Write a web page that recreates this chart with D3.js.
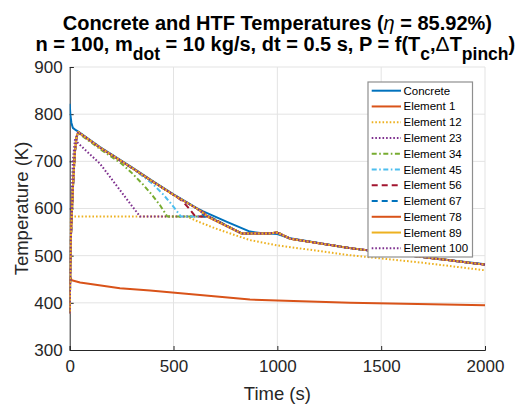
<!DOCTYPE html>
<html>
<head>
<meta charset="utf-8">
<script src="https://cdn.jsdelivr.net/npm/d3@7"></script>
<style>
  html, body { margin: 0; padding: 0; background: #fff; }
  svg { display: block; font-family: "Liberation Sans", Arial, sans-serif; }
</style>
</head>
<body>
<svg id="chart" width="516" height="405"></svg>
<script>
// Axis ticks
const xTicks = [0, 500, 1000, 1500, 2000];
const yTicks = [300, 400, 500, 600, 700, 800, 900];

// Concrete temperature (K) over time (s)
const concreteTime = [0, 3, 8, 15, 30, 41, 146, 300, 400, 500, 612, 643, 760, 868, 917, 1000, 1061, 1350, 1700, 2000];
const concreteTemp = [822, 800, 782, 771, 766, 763, 730, 687, 658, 630, 601, 594, 571, 551, 548, 546, 537, 516, 497, 482];

// HTF element temperatures (K) over time (s)
const elem1Time = [0, 2, 10, 50, 242, 387, 868, 1000, 1350, 2000];
const elem1Temp = [378, 455, 448, 443, 431, 426, 407, 405, 400, 395];

const elem12Time = [0, 3, 565, 620, 700, 820, 868, 997, 1350, 1700, 2000];
const elem12Temp = [378, 583, 583, 572, 558, 540, 533, 522, 501, 485, 469];

const elem23Time = [0, 5, 15, 25, 80, 146, 194, 242, 290, 339, 670, 828, 960, 997, 1010, 1061, 1350, 1700, 2000];
const elem23Temp = [378, 560, 700, 745, 722, 695, 667, 639, 611, 583, 583, 547, 547, 549, 547, 536, 516, 497, 481];

const elem34Time = [0, 5, 15, 25, 33, 41, 150, 250, 300, 355, 400, 435, 470, 670, 828, 960, 997, 1010, 1061, 1350, 1700, 2000];
const elem34Temp = [378, 530, 640, 720, 752, 760, 725, 695, 675, 650, 627, 607, 583, 583, 547, 547, 549, 547, 536, 516, 497, 481];

const elem45Time = [0, 5, 15, 25, 33, 41, 146, 300, 400, 450, 483, 510, 535, 670, 828, 960, 997, 1010, 1061, 1350, 1700, 2000];
const elem45Temp = [378, 530, 640, 720, 752, 762, 729, 686, 652, 630, 613, 598, 583, 583, 547, 547, 549, 547, 536, 516, 497, 481];

const elem56Time = [0, 5, 15, 25, 33, 41, 146, 300, 400, 500, 520, 547, 575, 605, 670, 828, 960, 997, 1010, 1061, 1350, 1700, 2000];
const elem56Temp = [378, 530, 640, 720, 752, 762, 729, 686, 657, 629, 623, 614, 600, 583, 583, 547, 547, 549, 547, 536, 516, 497, 481];

const elem67Time = [0, 5, 15, 25, 33, 41, 146, 300, 400, 500, 612, 625, 650, 670, 828, 960, 997, 1010, 1061, 1350, 1700, 2000];
const elem67Temp = [378, 530, 640, 720, 752, 762, 729, 686, 657, 629, 600, 596, 583, 583, 547, 547, 549, 547, 536, 516, 497, 481];

const elem78Time = [0, 5, 15, 25, 33, 41, 146, 300, 400, 500, 612, 643, 662, 828, 960, 997, 1010, 1061, 1350, 1700, 2000];
const elem78Temp = [378, 530, 640, 720, 752, 762, 729, 686, 657, 629, 600, 592, 583, 547, 547, 549, 547, 536, 516, 497, 481];

const elem89Time = [0, 5, 15, 25, 33, 41, 146, 300, 400, 500, 612, 660, 828, 960, 997, 1010, 1061, 1350, 1700, 2000];
const elem89Temp = [378, 530, 640, 720, 752, 762, 729, 686, 657, 629, 600, 584, 547, 547, 549, 547, 536, 516, 497, 481];

const elem100Time = [0, 5, 15, 25, 33, 41, 146, 300, 400, 500, 612, 660, 828, 960, 997, 1010, 1061, 1350, 1700, 2000];
const elem100Temp = [378, 530, 640, 720, 752, 762, 729, 686, 657, 629, 600, 584, 547, 547, 549, 547, 536, 516, 497, 481];

// Series styling (MATLAB default colour order, cycling)
const series = [
  { name: "Concrete",    t: concreteTime, v: concreteTemp, color: "#0072BD", dash: null },
  { name: "Element 1",   t: elem1Time,   v: elem1Temp,   color: "#D95319", dash: null },
  { name: "Element 12",  t: elem12Time,  v: elem12Temp,  color: "#EDB120", dash: "1.6,2" },
  { name: "Element 23",  t: elem23Time,  v: elem23Temp,  color: "#7E2F8E", dash: "1.6,2" },
  { name: "Element 34",  t: elem34Time,  v: elem34Temp,  color: "#77AC30", dash: "5,2.5,1.6,2.5" },
  { name: "Element 45",  t: elem45Time,  v: elem45Temp,  color: "#4DBEEE", dash: "5,2.5,1.6,2.5" },
  { name: "Element 56",  t: elem56Time,  v: elem56Temp,  color: "#A2142F", dash: "6,4" },
  { name: "Element 67",  t: elem67Time,  v: elem67Temp,  color: "#0072BD", dash: "6,4" },
  { name: "Element 78",  t: elem78Time,  v: elem78Temp,  color: "#D95319", dash: null },
  { name: "Element 89",  t: elem89Time,  v: elem89Temp,  color: "#EDB120", dash: null },
  { name: "Element 100", t: elem100Time, v: elem100Temp, color: "#7E2F8E", dash: "1.6,2" }
];

const svg = d3.select("#chart");
const plot = { left: 69.7, right: 485, top: 67, bottom: 350 };

const x = d3.scaleLinear().domain([0, 2000]).range([plot.left, plot.right]);
const y = d3.scaleLinear().domain([300, 900]).range([plot.bottom, plot.top]);

// Grid
const grid = svg.append("g").attr("stroke", "#e3e3e3").attr("stroke-width", 1);
grid.selectAll("line.gx").data(xTicks.slice(1)).join("line")
  .attr("x1", d => x(d)).attr("x2", d => x(d))
  .attr("y1", plot.top).attr("y2", plot.bottom);
grid.selectAll("line.gy").data(yTicks.slice(1)).join("line")
  .attr("x1", plot.left).attr("x2", plot.right)
  .attr("y1", d => y(d)).attr("y2", d => y(d));

// Axes
const xAxis = d3.axisBottom(x).tickValues(xTicks).tickSize(-4).tickPadding(10).tickFormat(d3.format("d"));
const yAxis = d3.axisLeft(y).tickValues(yTicks).tickSize(-4).tickPadding(7).tickFormat(d3.format("d"));

const gx = svg.append("g").attr("transform", `translate(0,${plot.bottom})`).call(xAxis);
const gy = svg.append("g").attr("transform", `translate(${plot.left},0)`).call(yAxis);
[gx, gy].forEach(g => {
  g.select(".domain").attr("stroke", "#262626").attr("stroke-width", 1);
  g.selectAll(".tick line").attr("stroke", "#262626");
  g.selectAll(".tick text").attr("fill", "#262626")
    .style("font-family", "'Liberation Sans', Arial, sans-serif").style("font-size", "17px");
});

// Lines
svg.append("clipPath").attr("id", "clip").append("rect")
  .attr("x", plot.left).attr("y", plot.top - 2)
  .attr("width", plot.right - plot.left + 2).attr("height", plot.bottom - plot.top + 2);

const line = d3.line().x(d => x(d[0])).y(d => y(d[1]));
const lines = svg.append("g").attr("clip-path", "url(#clip)");
series.forEach(s => {
  const pts = s.t.map((t, i) => [t, s.v[i]]);
  lines.append("path")
    .attr("d", line(pts))
    .attr("fill", "none")
    .attr("stroke", s.color)
    .attr("stroke-width", 2)
    .attr("stroke-linejoin", "round")
    .attr("stroke-dasharray", s.dash);
});

// Axis labels
svg.append("text")
  .attr("x", (plot.left + plot.right) / 2).attr("y", 400)
  .attr("text-anchor", "middle").attr("fill", "#262626")
  .style("font-size", "18.5px").text("Time (s)");
svg.append("text")
  .attr("transform", `translate(28,${(plot.top + plot.bottom) / 2}) rotate(-90)`)
  .attr("text-anchor", "middle").attr("fill", "#262626")
  .style("font-size", "18.5px").text("Temperature (K)");

// Title
const cx = (plot.left + plot.right) / 2;
const t1 = svg.append("text").attr("x", cx).attr("y", 30)
  .attr("text-anchor", "middle").attr("fill", "#000")
  .style("font-size", "20px").style("font-weight", "bold");
t1.append("tspan").text("Concrete and HTF Temperatures (");
t1.append("tspan").style("font-style", "italic").style("font-weight", "normal").text("η");
t1.append("tspan").text(" = 85.92%)");

const subShift = 9;
const t2 = svg.append("text").attr("x", cx - 2).attr("y", 51)
  .attr("text-anchor", "middle").attr("fill", "#000")
  .style("font-size", "20px").style("font-weight", "bold");
const sub = (txt) => {
  t2.append("tspan").attr("dy", subShift).style("font-size", "17.5px").text(txt);
};
const norm = (txt, back) => {
  t2.append("tspan").attr("dy", back ? -subShift : 0).text(txt);
};
norm("n = 100, m");
sub("dot");
norm(" = 10 kg/s, dt = 0.5 s, P = f(T", true);
sub("c");
t2.append("tspan").attr("dy", -subShift).text(",");
t2.append("tspan").style("font-weight", "normal").style("font-size", "21px").text("Δ");
norm("T");
sub("pinch");
norm(")", true);

// Legend
const lg = { x: 368, y: 82, w: 104.5, h: 175, row: 15.76, first: 8.7 };
const legend = svg.append("g");
legend.append("rect")
  .attr("x", lg.x).attr("y", lg.y).attr("width", lg.w).attr("height", lg.h)
  .attr("fill", "#fff").attr("stroke", "#8f8f8f").attr("stroke-width", 1.2);
series.forEach((s, i) => {
  const yy = lg.y + lg.first + i * lg.row;
  legend.append("line")
    .attr("x1", lg.x + 3.7).attr("x2", lg.x + 33).attr("y1", yy).attr("y2", yy)
    .attr("stroke", s.color).attr("stroke-width", 2)
    .attr("stroke-dasharray", s.dash);
  legend.append("text")
    .attr("x", lg.x + 35.5).attr("y", yy).attr("dy", "0.35em")
    .attr("fill", "#000").style("font-size", "11.5px").text(s.name);
});
</script>
</body>
</html>
